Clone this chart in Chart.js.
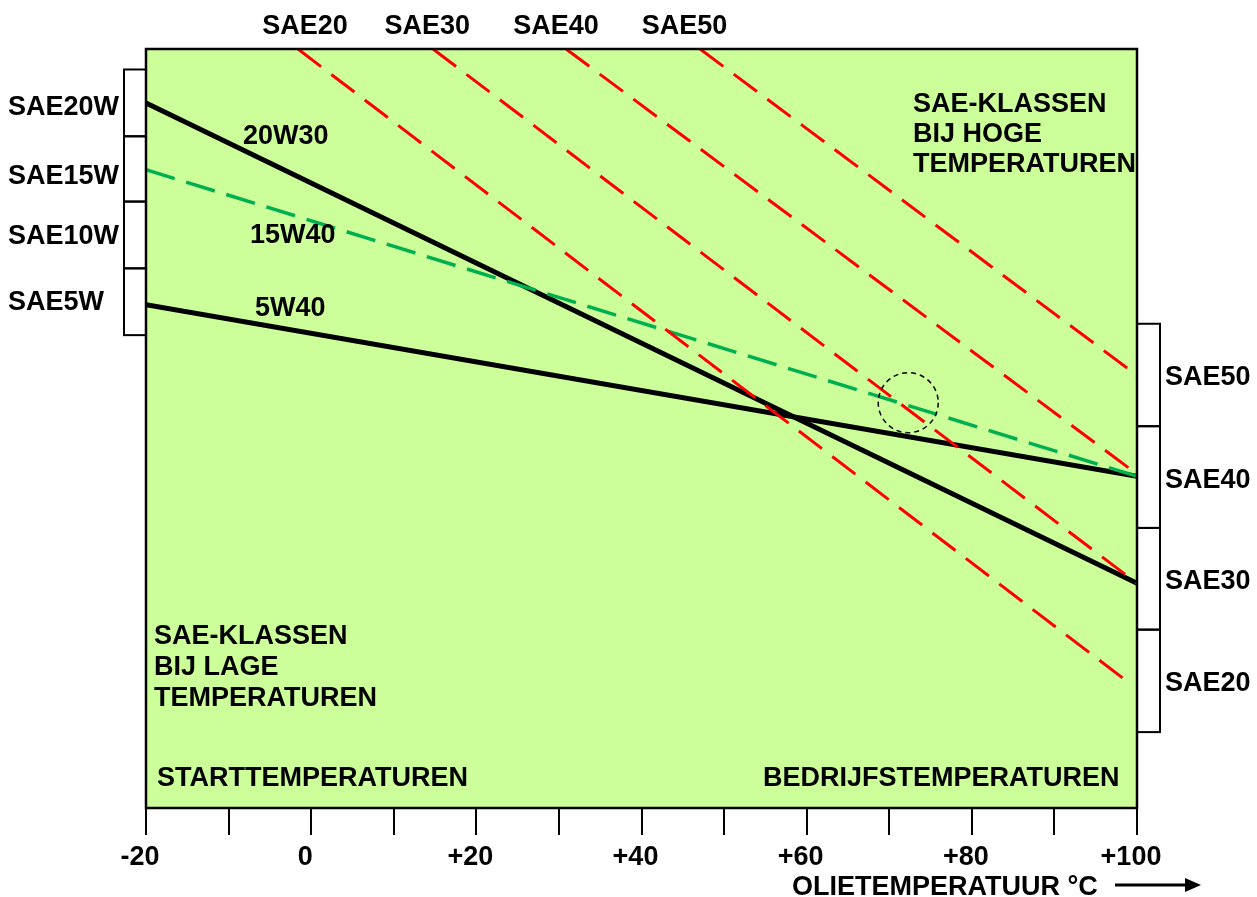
<!DOCTYPE html>
<html>
<head>
<meta charset="utf-8">
<script src="https://cdn.jsdelivr.net/npm/chart.js@4"></script>
<style>
  html, body { margin: 0; padding: 0; background: #ffffff; }
  canvas { display: block; }
</style>
</head>
<body>
<canvas id="c" width="1257" height="897"></canvas>
<script>
// ---- data (x = oil temperature °C, y = relative viscosity, 0..100) ----
const tempRange = [-20, 100];
const visc20W30 = [92.9, 29.6];
const visc15W40 = [84.1, 43.7];
const visc5W40  = [66.3, 43.7];

const sae20X = [-1.6, 98.9];   const sae20Y = [100, 16.6];
const sae30X = [14.75, 100];   const sae30Y = [100, 29.6];
const sae40X = [30.86, 100];   const sae40Y = [100, 44.0];
const sae50X = [47.09, 100];   const sae50Y = [100, 57.0];

const xTickValues = [-20, -10, 0, 10, 20, 30, 40, 50, 60, 70, 80, 90, 100];
const xLabelValues = [-20, 0, 20, 40, 60, 80, 100];
const xLabelTexts = ['-20', '0', '+20', '+40', '+60', '+80', '+100'];

const topClassNames = ['SAE20', 'SAE30', 'SAE40', 'SAE50'];
const topClassX = [-0.75, 14.07, 29.65, 45.2];

const lowClassNames = ['SAE20W', 'SAE15W', 'SAE10W', 'SAE5W'];
const lowClassBounds = [97.3, 88.5, 79.9, 71.1, 62.3];
const lowClassLabelY = [92.5, 83.4, 75.5, 66.8];

const highClassNames = ['SAE50', 'SAE40', 'SAE30', 'SAE20'];
const highClassBounds = [63.8, 50.3, 36.9, 23.5, 10.0];

const circleAt = [72.3, 53.4];

function pts(xs, ys) { return xs.map((x, i) => ({ x: x, y: ys[i] })); }

const FONT = 'bold 27px "Liberation Sans", Arial, sans-serif';
const DY = 2; // vertical nudge for text centring

const decor = {
  id: 'decor',
  beforeDraw(chart) {
    const { ctx, chartArea: a } = chart;
    ctx.save();
    ctx.fillStyle = '#ffffff';
    ctx.fillRect(0, 0, chart.width, chart.height);
    ctx.fillStyle = '#CCFF99';
    ctx.fillRect(a.left, a.top, a.right - a.left, a.bottom - a.top);
    ctx.restore();
  },
  afterDraw(chart) {
    const { ctx, chartArea: a } = chart;
    const xs = chart.scales.x, ys = chart.scales.y;
    ctx.save();

    // dashed circle
    ctx.strokeStyle = '#000';
    ctx.lineWidth = 1.5;
    ctx.setLineDash([5, 4]);
    ctx.beginPath();
    ctx.arc(xs.getPixelForValue(circleAt[0]), ys.getPixelForValue(circleAt[1]), 30, 0, Math.PI * 2);
    ctx.stroke();
    ctx.setLineDash([]);

    // plot border
    ctx.strokeStyle = '#000';
    ctx.lineWidth = 2.5;
    ctx.strokeRect(a.left, a.top, a.right - a.left, a.bottom - a.top);

    // x ticks
    ctx.lineWidth = 2;
    xTickValues.forEach(v => {
      const px = Math.round(xs.getPixelForValue(v));
      ctx.beginPath();
      ctx.moveTo(px, a.bottom);
      ctx.lineTo(px, a.bottom + 27);
      ctx.stroke();
    });

    ctx.fillStyle = '#000';
    ctx.font = FONT;
    ctx.textBaseline = 'middle';
    ctx.textAlign = 'center';
    xLabelValues.forEach((v, i) => {
      ctx.fillText(xLabelTexts[i], xs.getPixelForValue(v) - 6, 856 + DY);
    });

    // top class labels
    topClassNames.forEach((t, i) => {
      ctx.fillText(t, xs.getPixelForValue(topClassX[i]), 25 + DY);
    });

    // left brackets
    ctx.lineWidth = 2;
    for (let i = 0; i < lowClassNames.length; i++) {
      const y0 = ys.getPixelForValue(lowClassBounds[i]);
      const y1 = ys.getPixelForValue(lowClassBounds[i + 1]);
      ctx.strokeRect(124, y0, a.left - 124, y1 - y0);
    }
    ctx.textAlign = 'left';
    lowClassNames.forEach((t, i) => {
      ctx.fillText(t, 8, ys.getPixelForValue(lowClassLabelY[i]) + DY);
    });

    // right brackets
    for (let i = 0; i < highClassNames.length; i++) {
      const y0 = ys.getPixelForValue(highClassBounds[i]);
      const y1 = ys.getPixelForValue(highClassBounds[i + 1]);
      ctx.strokeRect(a.right, y0, 1160 - a.right, y1 - y0);
      ctx.fillText(highClassNames[i], 1165, (y0 + y1) / 2 + 1 + DY);
    }

    // line labels
    ctx.fillText('20W30', 243, 135 + DY);
    ctx.fillText('15W40', 250, 234 + DY);
    ctx.fillText('5W40', 255, 307 + DY);

    // region texts
    ['SAE-KLASSEN', 'BIJ HOGE', 'TEMPERATUREN'].forEach((t, i) => ctx.fillText(t, 913, 103 + DY + i * 30));
    ['SAE-KLASSEN', 'BIJ LAGE', 'TEMPERATUREN'].forEach((t, i) => ctx.fillText(t, 154, 635 + DY + i * 31));
    ctx.fillText('STARTTEMPERATUREN', 157, 777 + DY);
    ctx.fillText('BEDRIJFSTEMPERATUREN', 763, 777 + DY);

    // axis title + arrow
    ctx.fillText('OLIETEMPERATUUR °C', 792, 886 + DY);
    ctx.lineWidth = 3;
    ctx.beginPath();
    ctx.moveTo(1115, 885);
    ctx.lineTo(1188, 885);
    ctx.stroke();
    ctx.beginPath();
    ctx.moveTo(1201, 885);
    ctx.lineTo(1185, 878);
    ctx.lineTo(1185, 892);
    ctx.closePath();
    ctx.fill();

    ctx.restore();
  }
};

const red = { borderColor: '#FF0000', borderWidth: 3, borderDash: [29, 13], pointRadius: 0, fill: false, order: 1 };

new Chart(document.getElementById('c'), {
  type: 'line',
  data: {
    datasets: [
      Object.assign({ label: 'SAE20', data: pts(sae20X, sae20Y) }, red),
      Object.assign({ label: 'SAE30', data: pts(sae30X, sae30Y) }, red),
      Object.assign({ label: 'SAE40', data: pts(sae40X, sae40Y) }, red),
      Object.assign({ label: 'SAE50', data: pts(sae50X, sae50Y) }, red),
      { label: '15W40', data: pts(tempRange, visc15W40), borderColor: '#00B050', borderWidth: 3.5,
        borderDash: [30, 12], pointRadius: 0, fill: false, order: 2 },
      { label: '20W30', data: pts(tempRange, visc20W30), borderColor: '#000000', borderWidth: 5,
        pointRadius: 0, fill: false, order: 3 },
      { label: '5W40', data: pts(tempRange, visc5W40), borderColor: '#000000', borderWidth: 5,
        pointRadius: 0, fill: false, order: 3 }
    ]
  },
  options: {
    responsive: false,
    animation: false,
    devicePixelRatio: 1,
    layout: { padding: { left: 146, right: 120, top: 49, bottom: 89 } },
    plugins: { legend: { display: false }, tooltip: { enabled: false } },
    scales: {
      x: { type: 'linear', min: -20, max: 100, display: false },
      y: { type: 'linear', min: 0, max: 100, display: false }
    }
  },
  plugins: [decor]
});
</script>
</body>
</html>
